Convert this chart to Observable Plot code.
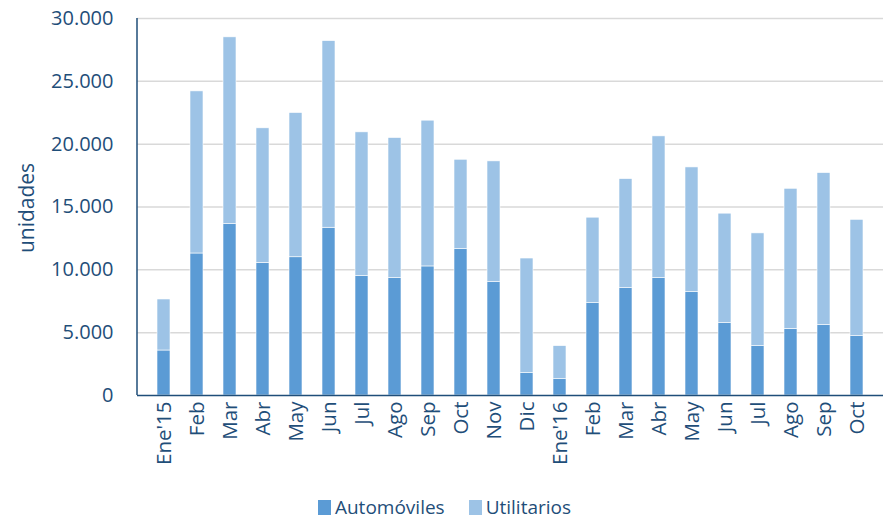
<!DOCTYPE html>
<html>
<head>
<meta charset="utf-8">
<script src="https://cdn.jsdelivr.net/npm/d3@7"></script>
<script src="https://cdn.jsdelivr.net/npm/@observablehq/plot@0.6"></script>
<style>
  html, body { margin: 0; background: #fff; font-family: "Open Sans", sans-serif; overflow: hidden; }
  #legend { display: flex; justify-content: center; align-items: center; padding-left: 6px; margin-top: 14px; gap: 24px; font-size: 19px; color: #1F4E79; line-height: 26px; height: 26px; }
  #legend span.sw { display: inline-block; width: 13px; height: 15px; margin-right: 4px; vertical-align: -1px; }
</style>
</head>
<body>
<div id="chart"></div>
<div id="legend"></div>
<script>
const months = ["Ene'15","Feb","Mar","Abr","May","Jun","Jul","Ago","Sep","Oct","Nov","Dic","Ene'16","Feb","Mar","Abr","May","Jun","Jul","Ago","Sep","Oct"];
const automoviles = [3580, 11300, 13640, 10560, 11000, 13350, 9500, 9340, 10270, 11650, 9020, 1780, 1300, 7350, 8540, 9340, 8220, 5760, 3930, 5300, 5600, 4720];
const utilitarios = [4060, 12900, 14860, 10700, 11480, 14850, 11440, 11150, 11600, 7110, 9610, 9120, 2630, 6800, 8680, 11280, 9930, 8710, 8970, 11150, 12100, 9260];
const series = ["Automóviles", "Utilitarios"];
const colors = ["#5B9BD5", "#9DC3E6"];
const yTicks = [0, 5000, 10000, 15000, 20000, 25000, 30000];
const yLabel = "unidades";

const data = [];
months.forEach((m, i) => {
  data.push({i, serie: series[0], value: automoviles[i]});
  data.push({i, serie: series[1], value: utilitarios[i]});
});
const fmt = d => d3.format(",")(d).replace(/,/g, ".");
const ink = "#1F4E79";

const chart = Plot.plot({
  width: 883,
  height: 480,
  marginLeft: 137,
  marginRight: 0,
  marginTop: 18,
  marginBottom: 85,
  style: { fontFamily: "Open Sans", fontSize: "20px", color: ink, background: "#fff" },
  x: { type: "band", domain: d3.range(months.length), paddingInner: 0.6, paddingOuter: 0.3 },
  y: { domain: [0, 30000] },
  color: { domain: series, range: colors },
  marks: [
    Plot.gridY(yTicks.slice(1), { stroke: "#d9d9d9", strokeOpacity: 1, strokeWidth: 1.5 }),
    Plot.barY(data, Plot.stackY({ x: "i", y: "value", fill: "serie", stroke: "#fff", strokeWidth: 0.6, order: series })),
    Plot.axisY(yTicks, { tickSize: 0, tickPadding: 24, tickFormat: fmt, label: null, fontSize: 20, fill: ink }),
    Plot.axisX({ tickSize: 0, tickPadding: 6, tickRotate: -90, tickFormat: i => months[i], fontSize: 20.5, fill: ink, label: null }),
    Plot.ruleY([0], { stroke: ink, strokeWidth: 1.5 })
  ]
});
document.getElementById("chart").appendChild(chart);

const svg = d3.select(chart);
// left axis line at frame edge
svg.append("line").attr("x1", 137).attr("x2", 137).attr("y1", 18).attr("y2", 395)
  .attr("stroke", ink).attr("stroke-width", 1.5);
// y axis title
svg.append("text").attr("transform", "translate(34,208) rotate(-90)")
  .attr("text-anchor", "middle").attr("fill", ink).attr("font-size", 21)
  .attr("font-family", "Open Sans").text(yLabel);

const legend = document.getElementById("legend");
series.forEach((s, k) => {
  const item = document.createElement("div");
  item.innerHTML = `<span class="sw" style="background:${colors[k]}"></span>${s}`;
  legend.appendChild(item);
});
</script>
</body>
</html>
